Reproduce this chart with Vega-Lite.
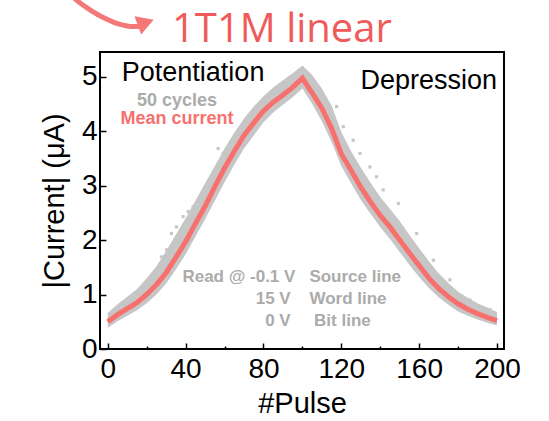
{
  "$schema": "https://vega.github.io/schema/vega-lite/v6.json",
  "width": 404,
  "height": 297,
  "autosize": "none",
  "padding": {"left": 100, "top": 52, "right": 45, "bottom": 72},
  "background": "white",
  "config": {
    "view": {"stroke": "black", "strokeWidth": 2},
    "font": "Liberation Sans"
  },
  "datasets": {
    "cycles": [
      {"pulse": 0, "mean": 0.50, "low": 0.39, "high": 0.66},
      {"pulse": 5, "mean": 0.63, "low": 0.51, "high": 0.82},
      {"pulse": 10, "mean": 0.74, "low": 0.61, "high": 0.96},
      {"pulse": 15, "mean": 0.85, "low": 0.71, "high": 1.10},
      {"pulse": 20, "mean": 1.00, "low": 0.84, "high": 1.30},
      {"pulse": 25, "mean": 1.18, "low": 1.00, "high": 1.52},
      {"pulse": 30, "mean": 1.40, "low": 1.20, "high": 1.80},
      {"pulse": 35, "mean": 1.68, "low": 1.46, "high": 2.10},
      {"pulse": 40, "mean": 1.97, "low": 1.74, "high": 2.40},
      {"pulse": 45, "mean": 2.30, "low": 2.06, "high": 2.72},
      {"pulse": 50, "mean": 2.62, "low": 2.38, "high": 3.04},
      {"pulse": 55, "mean": 2.98, "low": 2.72, "high": 3.36},
      {"pulse": 60, "mean": 3.32, "low": 3.06, "high": 3.68},
      {"pulse": 65, "mean": 3.63, "low": 3.38, "high": 3.97},
      {"pulse": 70, "mean": 3.92, "low": 3.68, "high": 4.23},
      {"pulse": 75, "mean": 4.15, "low": 3.92, "high": 4.45},
      {"pulse": 80, "mean": 4.37, "low": 4.16, "high": 4.64},
      {"pulse": 85, "mean": 4.53, "low": 4.34, "high": 4.80},
      {"pulse": 90, "mean": 4.66, "low": 4.48, "high": 4.93},
      {"pulse": 95, "mean": 4.80, "low": 4.62, "high": 5.06},
      {"pulse": 100, "mean": 4.97, "low": 4.78, "high": 5.20},
      {"pulse": 105, "mean": 4.70, "low": 4.50, "high": 5.03},
      {"pulse": 110, "mean": 4.42, "low": 4.18, "high": 4.78},
      {"pulse": 115, "mean": 4.05, "low": 3.80, "high": 4.47},
      {"pulse": 120, "mean": 3.58, "low": 3.36, "high": 3.98},
      {"pulse": 125, "mean": 3.28, "low": 3.04, "high": 3.63},
      {"pulse": 130, "mean": 2.97, "low": 2.74, "high": 3.33},
      {"pulse": 135, "mean": 2.70, "low": 2.48, "high": 3.05},
      {"pulse": 140, "mean": 2.45, "low": 2.24, "high": 2.79},
      {"pulse": 145, "mean": 2.24, "low": 2.02, "high": 2.57},
      {"pulse": 150, "mean": 2.00, "low": 1.78, "high": 2.35},
      {"pulse": 155, "mean": 1.76, "low": 1.54, "high": 2.09},
      {"pulse": 160, "mean": 1.53, "low": 1.32, "high": 1.85},
      {"pulse": 165, "mean": 1.30, "low": 1.12, "high": 1.61},
      {"pulse": 170, "mean": 1.11, "low": 0.95, "high": 1.39},
      {"pulse": 175, "mean": 0.96, "low": 0.81, "high": 1.21},
      {"pulse": 180, "mean": 0.83, "low": 0.69, "high": 1.05},
      {"pulse": 185, "mean": 0.73, "low": 0.61, "high": 0.94},
      {"pulse": 190, "mean": 0.65, "low": 0.54, "high": 0.84},
      {"pulse": 195, "mean": 0.58, "low": 0.48, "high": 0.76},
      {"pulse": 200, "mean": 0.52, "low": 0.43, "high": 0.68}
    ],
    "outliers": [
      {"pulse": 27.6, "current": 1.69},
      {"pulse": 30.2, "current": 1.82},
      {"pulse": 32.7, "current": 2.12},
      {"pulse": 35.3, "current": 2.24},
      {"pulse": 38.7, "current": 2.43},
      {"pulse": 41.3, "current": 2.52},
      {"pulse": 43.9, "current": 2.61},
      {"pulse": 56.7, "current": 3.68},
      {"pulse": 59.3, "current": 3.59},
      {"pulse": 66.2, "current": 3.9},
      {"pulse": 76.4, "current": 4.39},
      {"pulse": 117.6, "current": 4.45},
      {"pulse": 121, "current": 4.08},
      {"pulse": 126.1, "current": 3.83},
      {"pulse": 129.6, "current": 3.59},
      {"pulse": 134.7, "current": 3.34},
      {"pulse": 138.1, "current": 3.16},
      {"pulse": 141.5, "current": 2.92},
      {"pulse": 149.3, "current": 2.67},
      {"pulse": 158.7, "current": 2.12},
      {"pulse": 167.3, "current": 1.63},
      {"pulse": 175.8, "current": 1.27},
      {"pulse": 186, "current": 0.9},
      {"pulse": 196.4, "current": 0.72}
    ],
    "arrow": [
      {"ax": -21, "ay": 6.58, "k": 0},
      {"ax": -16, "ay": 6.4, "k": 1},
      {"ax": -9, "ay": 6.22, "k": 2},
      {"ax": -1, "ay": 6.06, "k": 3},
      {"ax": 6, "ay": 5.96, "k": 4},
      {"ax": 12, "ay": 5.92, "k": 5},
      {"ax": 16, "ay": 5.92, "k": 6}
    ]
  },
  "layer": [
    {
      "data": {"name": "cycles"},
      "mark": {"type": "area", "color": "#C6C6C6", "opacity": 1},
      "encoding": {
        "x": {
          "field": "pulse", "type": "quantitative",
          "scale": {"domain": [-4, 203.6], "nice": false, "zero": false},
          "axis": {
            "values": [0, 20, 40, 60, 80, 100, 120, 140, 160, 180, 200],
            "labelExpr": "datum.value % 40 === 0 ? datum.label : ''",
            "tickSize": {"condition": {"test": "datum.value % 40 === 0", "value": -6}, "value": -3},
            "tickColor": "black", "tickWidth": 1.5,
            "domain": false, "grid": false,
            "labelFontSize": 28, "labelColor": "black", "labelPadding": 12,
            "labelFont": "Liberation Sans",
            "title": "#Pulse", "titleFontSize": 29, "titleFontWeight": "normal",
            "titleFont": "Liberation Sans", "titleColor": "black", "titlePadding": 6
          }
        },
        "y": {
          "field": "low", "type": "quantitative",
          "scale": {"domain": [0, 5.45], "nice": false, "zero": false},
          "axis": {
            "values": [0, 0.5, 1, 1.5, 2, 2.5, 3, 3.5, 4, 4.5, 5],
            "format": ".0f",
            "labelExpr": "datum.value % 1 === 0 ? datum.label : ''",
            "tickSize": {"condition": {"test": "datum.value % 1 === 0", "value": -6}, "value": -3},
            "tickColor": "black", "tickWidth": 1.5,
            "domain": false, "grid": false,
            "labelFontSize": 28, "labelColor": "black", "labelPadding": 9,
            "labelFont": "Liberation Sans",
            "title": "|Current| (μA)", "titleFontSize": 29, "titleFontWeight": "normal",
            "titleFont": "Liberation Sans", "titleColor": "black", "titlePadding": 12
          }
        },
        "y2": {"field": "high"}
      }
    },
    {
      "data": {"name": "outliers"},
      "mark": {"type": "square", "color": "#C6C6C6", "opacity": 1, "size": 10},
      "encoding": {
        "x": {"field": "pulse", "type": "quantitative"},
        "y": {"field": "current", "type": "quantitative"}
      }
    },
    {
      "data": {"name": "cycles"},
      "mark": {"type": "line", "color": "#F7706E", "strokeWidth": 5},
      "encoding": {
        "x": {"field": "pulse", "type": "quantitative"},
        "y": {"field": "mean", "type": "quantitative"}
      }
    },
    {
      "data": {"name": "arrow"},
      "mark": {"type": "line", "color": "#F47878", "strokeWidth": 5, "clip": false, "interpolate": "monotone"},
      "encoding": {
        "x": {"field": "ax", "type": "quantitative"},
        "y": {"field": "ay", "type": "quantitative"},
        "order": {"field": "k"}
      }
    },
    {
      "data": {"values": [{}]},
      "mark": {"type": "point", "shape": "triangle-right", "filled": true, "color": "#F47878", "opacity": 1, "size": 380, "angle": -20, "clip": false},
      "encoding": {"x": {"datum": 19.5}, "y": {"datum": 5.99}}
    },
    {
      "data": {"values": [{}]},
      "mark": {"type": "text", "text": "1T1M linear", "fontSize": 40, "align": "left", "baseline": "alphabetic", "color": "#F05A5A", "font": "Open Sans", "clip": false},
      "encoding": {"x": {"datum": 33}, "y": {"datum": 5.63}}
    },
    {
      "data": {"values": [{}]},
      "mark": {"type": "text", "text": "Potentiation", "fontSize": 27, "align": "left", "baseline": "alphabetic", "color": "black", "font": "Liberation Sans"},
      "encoding": {"x": {"datum": 7.2}, "y": {"datum": 4.92}}
    },
    {
      "data": {"values": [{}]},
      "mark": {"type": "text", "text": "Depression", "fontSize": 27, "align": "right", "baseline": "alphabetic", "color": "black", "font": "Liberation Sans"},
      "encoding": {"x": {"datum": 200}, "y": {"datum": 4.77}}
    },
    {
      "data": {"values": [{}]},
      "mark": {"type": "text", "text": "50 cycles", "fontSize": 18, "fontWeight": "bold", "align": "center", "baseline": "alphabetic", "color": "#ABABAB", "font": "Liberation Sans"},
      "encoding": {"x": {"datum": 35.6}, "y": {"datum": 4.46}}
    },
    {
      "data": {"values": [{}]},
      "mark": {"type": "text", "text": "Mean current", "fontSize": 18, "fontWeight": "bold", "align": "center", "baseline": "alphabetic", "color": "#F7706E", "font": "Liberation Sans"},
      "encoding": {"x": {"datum": 35.6}, "y": {"datum": 4.12}}
    },
    {
      "data": {"values": [{}]},
      "mark": {"type": "text", "text": "Read @ -0.1 V", "fontSize": 17, "fontWeight": "bold", "align": "right", "baseline": "alphabetic", "color": "#ABABAB", "font": "Liberation Sans"},
      "encoding": {"x": {"datum": 96.4}, "y": {"datum": 1.23}}
    },
    {
      "data": {"values": [{}]},
      "mark": {"type": "text", "text": "Source line", "fontSize": 17, "fontWeight": "bold", "align": "left", "baseline": "alphabetic", "color": "#ABABAB", "font": "Liberation Sans"},
      "encoding": {"x": {"datum": 103.6}, "y": {"datum": 1.23}}
    },
    {
      "data": {"values": [{}]},
      "mark": {"type": "text", "text": "15 V", "fontSize": 17, "fontWeight": "bold", "align": "right", "baseline": "alphabetic", "color": "#ABABAB", "font": "Liberation Sans"},
      "encoding": {"x": {"datum": 94}, "y": {"datum": 0.83}}
    },
    {
      "data": {"values": [{}]},
      "mark": {"type": "text", "text": "Word line", "fontSize": 17, "fontWeight": "bold", "align": "left", "baseline": "alphabetic", "color": "#ABABAB", "font": "Liberation Sans"},
      "encoding": {"x": {"datum": 103.6}, "y": {"datum": 0.83}}
    },
    {
      "data": {"values": [{}]},
      "mark": {"type": "text", "text": "0 V", "fontSize": 17, "fontWeight": "bold", "align": "right", "baseline": "alphabetic", "color": "#ABABAB", "font": "Liberation Sans"},
      "encoding": {"x": {"datum": 94}, "y": {"datum": 0.42}}
    },
    {
      "data": {"values": [{}]},
      "mark": {"type": "text", "text": "Bit line", "fontSize": 17, "fontWeight": "bold", "align": "left", "baseline": "alphabetic", "color": "#ABABAB", "font": "Liberation Sans"},
      "encoding": {"x": {"datum": 106}, "y": {"datum": 0.42}}
    }
  ]
}
